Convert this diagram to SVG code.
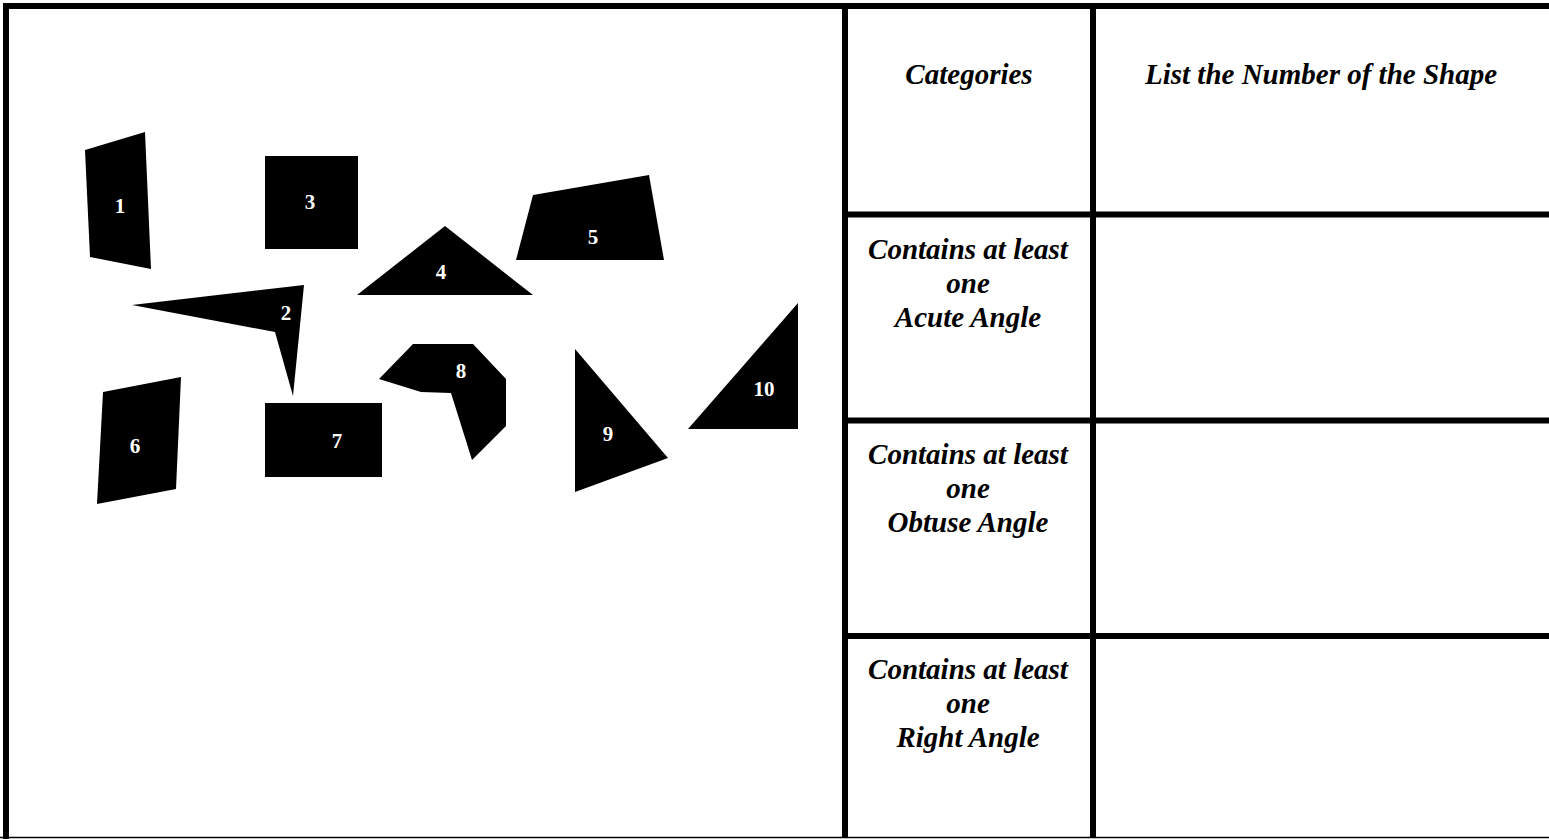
<svg xmlns="http://www.w3.org/2000/svg" width="1549" height="839" viewBox="0 0 1549 839">
<style>
.shape{fill:#000}
.num{font-family:"Liberation Serif","Times New Roman",serif;font-weight:bold;font-size:21px;fill:#fff;text-anchor:middle}
.cell{font-family:"Liberation Serif","Times New Roman",serif;font-weight:bold;font-style:italic;font-size:29px;fill:#000;text-anchor:middle}
.rule{stroke:#000;stroke-width:6;fill:none}
</style>
<rect x="0" y="0" width="1549" height="839" fill="#fff"/>
<g id="table">
<line class="rule" x1="3" y1="6" x2="1549" y2="6"/>
<line class="rule" x1="6" y1="3" x2="6" y2="839"/>
<line class="rule" x1="845" y1="3" x2="845" y2="838"/>
<line class="rule" x1="1093" y1="3" x2="1093" y2="838"/>
<line class="rule" x1="842" y1="214.5" x2="1549" y2="214.5"/>
<line class="rule" x1="842" y1="420.5" x2="1549" y2="420.5"/>
<line class="rule" x1="842" y1="636" x2="1549" y2="636"/>
<line stroke="#000" stroke-width="1.5" x1="0" y1="837.5" x2="1549" y2="837.5"/>
</g>
<g id="header">
<text class="cell" x="969" y="84">Categories</text>
<text class="cell" x="1321" y="84">List the Number of the Shape</text>
</g>
<g id="row-acute">
<text class="cell" x="968" y="259">Contains at least</text>
<text class="cell" x="968" y="293">one</text>
<text class="cell" x="968" y="327">Acute Angle</text>
</g>
<g id="row-obtuse">
<text class="cell" x="968" y="464">Contains at least</text>
<text class="cell" x="968" y="498">one</text>
<text class="cell" x="968" y="532">Obtuse Angle</text>
</g>
<g id="row-right">
<text class="cell" x="968" y="679">Contains at least</text>
<text class="cell" x="968" y="713">one</text>
<text class="cell" x="968" y="747">Right Angle</text>
</g>
<g id="shape1"><polygon class="shape" points="85,150 145,132 151,269 90,257"/><text class="num" x="120" y="213">1</text></g>
<g id="shape2"><polygon class="shape" points="132,305 304,285 293,396 275,332"/><text class="num" x="286" y="320">2</text></g>
<g id="shape3"><rect class="shape" x="265" y="156" width="93" height="93"/><text class="num" x="310" y="209">3</text></g>
<g id="shape4"><polygon class="shape" points="445,226 533,295 357,295"/><text class="num" x="441" y="279">4</text></g>
<g id="shape5"><polygon class="shape" points="533,195 649,175 664,260 516,260"/><text class="num" x="593" y="244">5</text></g>
<g id="shape6"><polygon class="shape" points="103,392 181,377 176,489 97,504"/><text class="num" x="135" y="453">6</text></g>
<g id="shape7"><rect class="shape" x="265" y="403" width="117" height="74"/><text class="num" x="337" y="448">7</text></g>
<g id="shape8"><polygon class="shape" points="413,344 473,344 506,379 506,426 472,460 451,393 421,392 379,379"/><text class="num" x="461" y="378">8</text></g>
<g id="shape9"><polygon class="shape" points="575,349 668,458 575,492"/><text class="num" x="608" y="441">9</text></g>
<g id="shape10"><polygon class="shape" points="798,303 798,429 688,429"/><text class="num" x="764" y="396">10</text></g>
</svg>
